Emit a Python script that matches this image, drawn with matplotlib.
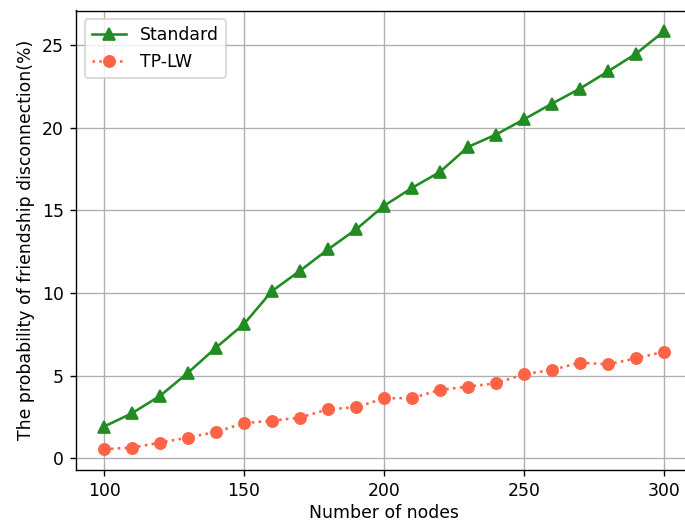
import matplotlib
matplotlib.use("Agg")
import matplotlib.pyplot as plt

nodes = [100, 110, 120, 130, 140, 150, 160, 170, 180, 190, 200,
         210, 220, 230, 240, 250, 260, 270, 280, 290, 300]
standard = [1.92, 2.73, 3.78, 5.18, 6.70, 8.13, 10.12, 11.35, 12.64, 13.85, 15.28,
            16.36, 17.33, 18.84, 19.59, 20.51, 21.46, 22.37, 23.41, 24.48, 25.83]
tplw = [0.56, 0.65, 0.95, 1.26, 1.60, 2.13, 2.28, 2.47, 2.97, 3.09, 3.63,
        3.65, 4.14, 4.34, 4.54, 5.09, 5.35, 5.79, 5.69, 6.05, 6.45]
xticks = [100, 150, 200, 250, 300]

DPI = 124
fig = plt.figure(figsize=(685 / DPI, 523 / DPI), dpi=DPI)
ax = fig.add_axes([76 / 685, 1 - 470 / 523, 616 / 685, (470 - 10.5) / 523])

ax.plot(nodes, standard, color="forestgreen", marker="^", markersize=6.5, linestyle="-", label="Standard")
ax.plot(nodes, tplw, color="tomato", marker="o", markersize=6.5, linestyle=":", label="TP-LW")

ax.set_xticks(xticks)
ax.set_xlabel("Number of nodes", labelpad=2.5)
ax.set_ylabel("The probability of friendship disconnection(%)")
ax.grid(True)
ax.legend(loc="upper left")

fig.savefig("out.png", dpi=DPI)
